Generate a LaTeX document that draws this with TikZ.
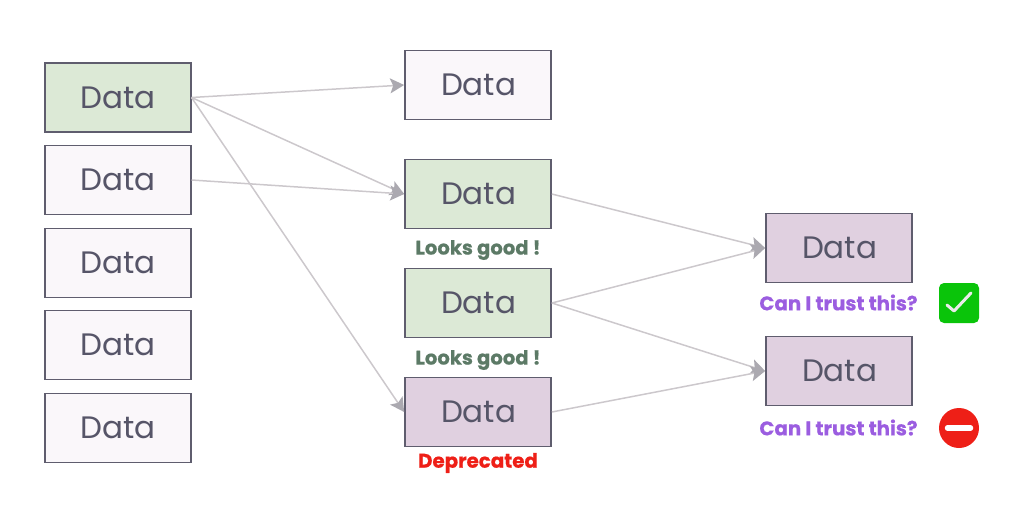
\documentclass[tikz,border=0pt]{standalone}
\usepackage{fontspec}
\setmainfont{Poppins}
\newfontfamily\heavyfont{Poppins}[BoldFont=*,UprightFont=* Bold,FakeBold=0.6]
\usetikzlibrary{arrows.meta}
\definecolor{edgegrey}{HTML}{5F5D6E}
\definecolor{textgrey}{HTML}{565568}
\definecolor{greenfill}{HTML}{DCE9D6}
\definecolor{purplefill}{HTML}{E0D0E0}
\definecolor{plainfill}{HTML}{FAF7FA}
\definecolor{linkgrey}{HTML}{CCC8CC}
\definecolor{tipgrey}{HTML}{ABA9B0}
\definecolor{goodtext}{HTML}{5C7A66}
\definecolor{asktext}{HTML}{9B5DE0}
\definecolor{badred}{HTML}{EE1F17}
\definecolor{okgreen}{HTML}{0AC40A}
\newcommand{\datatext}{\hspace{1.2pt}\raisebox{-2pt}{Data}}
\tikzset{
  x=1pt,y=-1pt,
  databox/.style={draw=edgegrey,line width=1.7pt,minimum width=146pt,minimum height=69pt,inner sep=0pt,
    font=\fontsize{31}{31}\selectfont,text=textgrey},
  plainbox/.style={databox,fill=plainfill},
  greenbox/.style={databox,fill=greenfill},
  purplebox/.style={databox,fill=purplefill},
  link/.style={draw=linkgrey,line width=1.5pt,-{Stealth[length=14pt,width=15pt,color=tipgrey,inset=3pt]}},
  goodlabel/.style={font=\heavyfont\fontsize{19.6}{19.6}\selectfont,text=goodtext,inner sep=0pt},
  asklabel/.style={font=\heavyfont\fontsize{19.8}{19.8}\selectfont,text=asktext,inner sep=0pt},
  badlabel/.style={font=\heavyfont\fontsize{19.8}{19.8}\selectfont,text=badred,inner sep=0pt},
}
\begin{document}
\begin{tikzpicture}
\useasboundingbox (0,0) rectangle (1016,522);
\node[greenbox]  (a1) at (117.7,97.5) {\datatext};
\node[plainbox]  (a2) at (117.7,180) {\datatext};
\node[plainbox]  (a3) at (117.7,263) {\datatext};
\node[plainbox]  (a4) at (117.7,345) {\datatext};
\node[plainbox]  (a5) at (117.7,428) {\datatext};
\node[plainbox]  (b1) at (478,85) {\datatext};
\node[greenbox]  (b2) at (478,194) {\datatext};
\node[greenbox]  (b3) at (478,303) {\datatext};
\node[purplebox] (b4) at (478,412) {\datatext};
\node[purplebox] (c1) at (839,248) {\datatext};
\node[purplebox] (c2) at (839,371) {\datatext};
\draw[link] (a1.east) -- (b1.west);
\draw[link] (a1.east) -- (b2.west);
\draw[link] (a1.east) -- (b4.west);
\draw[link] (a2.east) -- (b2.west);
\draw[link] (b2.east) -- (c1.west);
\draw[link] (b3.east) -- (c1.west);
\draw[link] (b3.east) -- (c2.west);
\draw[link] (b4.east) -- (c2.west);
\node[goodlabel] (g1) at (478,250) {Looks good !};
\node[goodlabel] (g2) at (478,360) {Looks good !};
\node[badlabel]  (d1) at (478,463) {Deprecated};
\node[asklabel]  (q1) at (838.5,302.5) {Can I trust this?};
\node[asklabel]  (q2) at (838.5,427.5) {Can I trust this?};
\node[draw=none,fill=okgreen,rounded corners=5pt,minimum width=40pt,minimum height=40pt,inner sep=0pt] (ok) at (959,303) {};
\draw[white!92!black,line width=3pt,line cap=round,line join=round]
  ([shift={(-12,2)}]ok.center) -- ([shift={(-5,8)}]ok.center) -- ([shift={(12,-10)}]ok.center);
\node[circle,fill=badred,minimum size=40pt,inner sep=0pt] (no) at (959,428) {};
\draw[white,line width=5.5pt,line cap=round]
  ([shift={(-11.5,0)}]no.center) -- ([shift={(11.5,0)}]no.center);
\end{tikzpicture}
\end{document}
